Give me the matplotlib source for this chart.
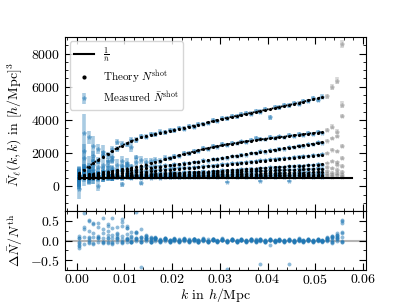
import numpy as np
import matplotlib.pyplot as plt
from matplotlib.lines import Line2D
from matplotlib.ticker import MultipleLocator

plt.rcParams['font.family'] = 'serif'
plt.rcParams['font.serif'] = ['cmr10']
plt.rcParams['mathtext.fontset'] = 'cm'
plt.rcParams['axes.formatter.use_mathtext'] = True
plt.rcParams['font.size'] = 10

# k bins (h/Mpc)
k = [0.0005, 0.0015, 0.0025, 0.0035, 0.0045, 0.0055, 0.0065, 0.0075, 0.0085, 0.0095,
     0.0105, 0.0115, 0.0125, 0.0135, 0.0145, 0.0155, 0.0165, 0.0175, 0.0185, 0.0195,
     0.0205, 0.0215, 0.0225, 0.0235, 0.0245, 0.0255, 0.0265, 0.0275, 0.0285, 0.0295,
     0.0305, 0.0315, 0.0325, 0.0335, 0.0345, 0.0355, 0.0365, 0.0375, 0.0385, 0.0395,
     0.0405, 0.0415, 0.0425, 0.0435, 0.0445, 0.0455, 0.0465, 0.0475, 0.0485, 0.0495,
     0.0505, 0.0515, 0.0525, 0.0535, 0.0545, 0.0555]
k_line = [0.0005, 0.0577]
inv_nbar = 520
k_fit_max = 0.052

# theory shot noise, one list per multipole
th_1 = [780, 990, 1190, 1390, 1590, 1780, 1960, 2130, 2300, 2450, 2590, 2720, 2840, 2940,
        3020, 3090, 3160, 3230, 3290, 3350, 3410, 3470, 3530, 3590, 3650, 3710, 3780, 3850,
        3920, 3990, 4060, 4120, 4180, 4240, 4300, 4360, 4420, 4480, 4540, 4600, 4660, 4720,
        4780, 4840, 4900, 4960, 5030, 5100, 5170, 5240, 5310, 5380, 5440, 5500, 5560, 5620]
th_2 = [650, 685, 720, 760, 800, 840, 880, 925, 970, 1020, 1070, 1125, 1180, 1245, 1310,
        1385, 1460, 1540, 1620, 1700, 1780, 1860, 1940, 2015, 2090, 2160, 2230, 2295, 2360,
        2415, 2470, 2520, 2570, 2615, 2660, 2700, 2740, 2780, 2820, 2855, 2890, 2925, 2960,
        2995, 3030, 3065, 3100, 3135, 3170, 3205, 3240, 3270, 3300, 3330, 3360, 3390]
th_3 = [580, 615, 650, 690, 725, 760, 795, 830, 870, 905, 940, 975, 1010, 1050, 1085, 1120,
        1155, 1190, 1230, 1265, 1300, 1335, 1370, 1410, 1445, 1480, 1525, 1570, 1615, 1660,
        1705, 1750, 1795, 1840, 1885, 1930, 1975, 2020, 2065, 2110, 2155, 2200, 2245, 2290,
        2335, 2380, 2425, 2470, 2515, 2560, 2605, 2650, 2695, 2740, 2785, 2830]
th_4 = [560, 585, 605, 630, 655, 675, 700, 725, 750, 770, 795, 820, 840, 865, 890, 910, 935,
        960, 985, 1005, 1030, 1055, 1075, 1100, 1125, 1150, 1170, 1195, 1220, 1250, 1280,
        1310, 1340, 1370, 1400, 1430, 1460, 1490, 1520, 1550, 1580, 1610, 1640, 1670, 1700,
        1730, 1760, 1790, 1820, 1850, 1880, 1910, 1940, 1970, 2000, 2030]
th_5 = [540, 555, 565, 580, 590, 605, 615, 630, 645, 655, 670, 680, 695, 710, 720, 735, 745,
        760, 775, 785, 800, 810, 825, 840, 850, 865, 875, 890, 900, 920, 940, 955, 975, 990,
        1010, 1030, 1045, 1065, 1085, 1100, 1120, 1140, 1155, 1175, 1195, 1210, 1230, 1245,
        1265, 1285, 1300, 1320, 1340, 1355, 1375, 1395]
th_6 = [530, 540, 550, 560, 570, 580, 590, 600, 610, 620, 630, 640, 650, 660, 670, 685, 695,
        705, 715, 725, 735, 745, 755, 765, 775, 790, 800, 810, 820, 830, 840, 850, 860, 870,
        880, 895, 905, 915, 925, 935, 945, 955, 965, 975, 985, 1000, 1010, 1020, 1030, 1040,
        1050, 1060, 1070, 1080, 1090, 1105]
th_7 = [525, 530, 535, 545, 550, 555, 560, 570, 575, 580, 590, 595, 600, 605, 615, 620, 625,
        635, 640, 645, 650, 660, 665, 670, 675, 685, 690, 695, 700, 710, 715, 720, 730, 735,
        740, 745, 755, 760, 765, 770, 780, 785, 790, 800, 805, 810, 815, 825, 830, 835, 840,
        850, 855, 860, 870, 875]
th_8 = [520, 525, 527, 530, 535, 537, 540, 545, 548, 550, 555, 558, 562, 565, 570, 572, 575,
        580, 583, 587, 590, 593, 597, 600, 605, 608, 612, 615, 620, 622, 625, 630, 633, 637,
        640, 643, 648, 650, 655, 658, 660, 665, 668, 672, 675, 678, 682, 685, 690, 693, 695,
        700, 703, 706, 710, 713]
th_9 = [520, 521, 523, 524, 526, 527, 529, 530, 532, 533, 535, 536, 538, 539, 541, 542, 544,
        545, 547, 548, 550, 551, 553, 554, 556, 557, 559, 560, 562, 563, 565, 566, 568, 569,
        571, 572, 574, 575, 577, 578, 580, 581, 583, 584, 586, 587, 589, 590, 592, 593, 595,
        596, 598, 599, 601, 602]

# measured shot noise
meas_1 = [700, 1080, 1150, 1500, 1550, 1900, 1880, 2250, 2240, 2560, 2520, 2800, 2790, 3000,
          2990, 3150, 3120, 3300, 3250, 3400, 3380, 3520, 3480, 3640, 3600, 3740, 3760, 3820,
          3980, 3950, 4100, 4090, 4230, 4210, 4330, 4400, 4380, 4520, 4500, 4640, 4150, 4760,
          4750, 4890, 4870, 5000, 4980, 5140, 5120, 5290, 5200, 5400, 5420, 6000, 6360, 8580]
meas_2 = [620, 3240, 1100, 2400, 1150, 2040, 1200, 1740, 1300, 1500, 1400, 2340, 1450, 1600,
          1480, 1520, 1600, 1520, 1700, 1680, 1800, 1830, 1990, 1980, 2130, 2120, 2280, 2260,
          2420, 2390, 2530, 2480, 2620, 2580, 2700, 2660, 2780, 2900, 2850, 2820, 2950, 2900,
          3000, 2940, 3080, 3030, 3150, 3100, 3220, 3160, 3290, 3230, 3400, 3600, 3300, 4920]
meas_3 = [-180, 800, 2940, 1000, 2220, 900, 1500, 1100, 2640, 1000, 1300, 1200, 1750, 1150,
          1200, 1180, 1230, 1200, 1280, 1250, 1330, 1310, 1400, 1380, 1460, 1450, 1560, 1540,
          1650, 1620, 1720, 1730, 1820, 1800, 1910, 1890, 2000, 1980, 2100, 2060, 2180, 2170,
          2270, 2240, 2360, 2340, 2450, 2430, 2530, 2520, 2640, 2620, 2750, 2900, 3000, 4260]
meas_4 = [450, 2100, 900, 1800, 0, 1300, 1000, 1600, 900, 1200, 1050, 900, 1000, 950, 950, 960,
          990, 1000, 1040, 1030, 1080, 1090, 1120, 1130, 1160, 1180, 1200, 1230, 1250, 1280,
          1320, 1330, 1380, 1390, 1430, 1450, 1490, 1510, 1560, 1570, 1620, 1630, 1670, 1690,
          1720, 1740, 1790, 1800, 1840, 1860, 1900, 1920, 1980, 2200, 2100, 2400]
meas_5 = [600, 1700, 700, 1300, 800, 950, 700, 1000, 750, 900, 780, 760, 850, 750, 800, 760,
          800, 780, 820, 800, 840, 820, 860, 850, 880, 870, 900, 880, 930, 910, 960, 950, 1000,
          980, 1030, 1020, 1070, 1060, 1100, 1090, 1150, 1130, 1180, 1160, 1220, 1200, 1250,
          1240, 1290, 1270, 1320, 1310, 1400, 1500, 1450, 1700]
meas_6 = [500, 1200, 560, 800, 600, 750, 560, 680, 630, 120, 660, 620, 700, 640, 700, 660, 720,
          690, 740, 700, 760, 730, 780, 750, 800, 770, 820, 790, 850, 810, 870, 240, 880, 860,
          900, 880, 930, 900, 950, 920, 970, 940, 990, 960, 1010, 980, 1040, 1000, 1060, 1020,
          1080, 1040, 1150, 1100, 1300, 1200]
meas_7 = [560, 900, 500, 650, 600, 540, 700, 520, 640, 560, 620, 570, 630, 200, 640, 600, 660,
          620, 670, 630, 680, 640, 690, 650, 700, 660, 710, 680, 720, 690, 730, 700, 750, 710,
          760, 720, 780, 740, 300, 750, 800, 760, 810, 780, 330, 790, 840, 800, 850, 810, 860,
          830, 900, 820, 1000, 850]
meas_8 = [450, 700, 560, 480, 600, 520, 580, 510, 590, 530, 580, 540, 590, 550, 600, 550, 600,
          560, 610, 570, 620, 580, 620, 590, 630, 590, 640, 600, 640, 610, 650, 610, 660, 620,
          670, 630, 670, 640, 680, 640, 690, 650, 690, 660, 700, 660, 710, 670, 720, 680, 720,
          690, 760, 680, 800, 700]
meas_9 = [560, 480, 570, 490, 560, 500, 560, 510, 570, 500, 565, 515, 570, 520, 575, 520, 575,
          525, 580, 530, 580, 530, 585, 535, 585, 540, 590, 540, 590, 545, 595, 545, 595, 550,
          600, 555, 600, 555, 605, 560, 610, 560, 610, 565, 615, 565, 620, 570, 620, 575, 625,
          575, 640, 560, 660, 580]

# error bars
err_1 = [320, 280, 260, 240, 230, 220, 210, 200, 190, 180, 170, 165, 160, 155, 150, 150, 145,
         145, 140, 140, 140, 135, 135, 135, 130, 130, 130, 130, 130, 130, 130, 130, 130, 130,
         130, 130, 130, 130, 130, 130, 130, 130, 130, 130, 130, 130, 130, 130, 130, 130, 130,
         130, 150, 170, 200, 250]
err_2 = [300, 1100, 700, 600, 500, 450, 400, 380, 350, 320, 300, 280, 260, 240, 220, 200, 190,
         180, 170, 160, 150, 140, 130, 130, 120, 120, 120, 120, 110, 110, 110, 110, 110, 110,
         110, 110, 110, 110, 110, 110, 110, 110, 110, 110, 110, 110, 110, 110, 110, 110, 110,
         110, 130, 150, 180, 220]
err_band = [600, 450, 400, 350, 300, 260, 230, 200, 180, 160, 150, 140, 130, 120, 110, 100, 95,
            90, 85, 80, 80, 75, 75, 70, 70, 70, 70, 70, 70, 70, 70, 70, 70, 70, 70, 70, 70, 70,
            70, 70, 70, 70, 70, 70, 70, 70, 70, 70, 70, 70, 70, 70, 80, 90, 100, 120]

theory = [th_1, th_2, th_3, th_4, th_5, th_6, th_7, th_8, th_9]
measured = [meas_1, meas_2, meas_3, meas_4, meas_5, meas_6, meas_7, meas_8, meas_9]
errors = [err_1, err_2, err_band, err_band, err_band, err_band, err_band, err_band, err_band]

k = np.array(k)
fit = k < k_fit_max

fig = plt.figure(figsize=(4.07, 3.05), dpi=100)
gs = fig.add_gridspec(2, 1, height_ratios=[175, 59], hspace=0,
                      left=0.16, right=0.899, top=0.879, bottom=0.115)
ax = fig.add_subplot(gs[0])
axr = fig.add_subplot(gs[1], sharex=ax)

meas_handle = None
for th, m, e in zip(theory, measured, errors):
    th, m, e = np.array(th, float), np.array(m, float), np.array(e, float)
    h = ax.errorbar(k[fit], m[fit], yerr=e[fit], fmt='*', ms=3, color='C0',
                    alpha=0.38, elinewidth=2.6, zorder=2)
    if meas_handle is None:
        meas_handle = h
    ax.errorbar(k[~fit], m[~fit], yerr=e[~fit], fmt='*', ms=3, color='grey',
                alpha=0.3, elinewidth=2.6, zorder=2)
    ax.plot(k[fit], th[fit], ls=':', marker='.', ms=2.5, lw=1.3, color='k', zorder=3)
    axr.plot(k, (m - th) / th, 'o', ms=2.8, color='C0', alpha=0.5, mec='none')

ax.plot(k_line, [inv_nbar, inv_nbar], color='k', lw=1.5, zorder=3)

handles = [Line2D([], [], color='k', lw=1.5),
           Line2D([], [], color='k', marker='.', ls='none', ms=4),
           meas_handle]
labels = [r'$\frac{1}{\bar{n}}$', r'Theory $N^{\rm shot}$', r'Measured $\bar{N}^{\rm shot}$']
ax.legend(handles, labels, loc='upper left', fontsize=8, edgecolor='#cccccc',
          borderaxespad=0.4, handlelength=1.8, labelspacing=0.35)

axr.axhline(0, color='#b5b5b5', lw=1.5, zorder=0)

ax.set_xlim(-0.0024, 0.0606)
ax.set_ylim(-1500, 9000)
axr.set_ylim(-0.75, 0.75)

ax.xaxis.set_major_locator(MultipleLocator(0.01))
ax.xaxis.set_minor_locator(MultipleLocator(0.002))
ax.yaxis.set_major_locator(MultipleLocator(2000))
ax.yaxis.set_minor_locator(MultipleLocator(500))
axr.yaxis.set_major_locator(MultipleLocator(0.5))
axr.yaxis.set_minor_locator(MultipleLocator(0.25))

for a in (ax, axr):
    a.tick_params(which='both', direction='in', top=True, right=True)
    a.tick_params(which='major', length=5)
    a.tick_params(which='minor', length=2.5)
ax.tick_params(labelbottom=False)
axr.tick_params(axis='x', pad=2.5)

ax.set_ylabel(r'$\bar{N}_\ell(k,k)$ in $[h/\mathrm{Mpc}]^3$')
axr.set_ylabel(r'$\Delta\bar{N}/N^{\rm th}$')
axr.set_xlabel(r'$k$ in $h/\mathrm{Mpc}$', labelpad=-1)
fig.align_ylabels([ax, axr])

fig.savefig('out.png', dpi=100)
